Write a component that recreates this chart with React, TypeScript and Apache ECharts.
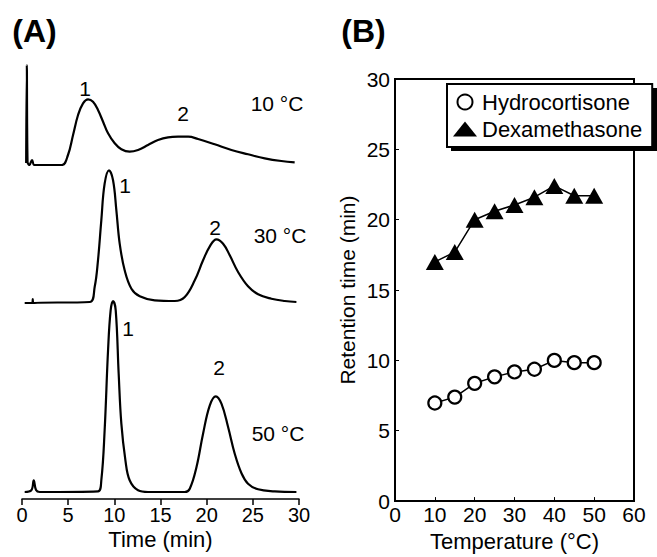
import React, { useEffect, useRef } from "react";
import * as echarts from "echarts";

// Panel A: chromatogram traces, [time (min), detector signal (a.u.)]
const trace10C: number[][] = [
  [0.45, 2], [0.52, 100], [0.6, 3], [0.8, 0], [1.09, 5], [1.35, 0], [4.3, 0],
  [4.98, 10], [5.53, 30], [6.07, 50], [6.61, 61.7], [7.15, 65.7], [7.69, 63.3],
  [8.23, 55], [8.78, 43.3], [9.32, 31.7], [10.04, 21.7], [10.76, 15.7], [11.66, 13.3],
  [12.57, 15], [13.65, 20], [14.73, 25], [15.82, 27.7], [16.9, 28.3], [18.0, 28.3],
  [19.07, 26], [20.87, 20.7], [22.68, 15], [24.48, 10.7], [26.29, 6.7], [28.09, 4], [29.53, 2.7],
];
const trace30C: number[][] = [
  [0.29, 0], [1.1, 0], [1.17, 4], [1.2, -4], [1.25, 0], [7.33, 1], [7.87, 16],
  [8.23, 42.7], [8.59, 82.7], [8.95, 119.3], [9.42, 132.7], [9.86, 122.7], [10.22, 92.7],
  [10.58, 59.3], [11.12, 32.7], [11.85, 14.3], [12.75, 6.7], [14.37, 2.7], [16.54, 2],
  [17.63, 6], [18.71, 22.7], [19.61, 42.7], [20.34, 56.7], [21.06, 63.7], [21.78, 59.3],
  [22.5, 47.7], [23.4, 31], [24.48, 16.7], [25.57, 8.7], [27.01, 4.3], [28.46, 2], [29.72, 1],
];
const trace50C: number[][] = [
  [0.29, 0], [1.01, 1.7], [1.27, 11.7], [1.52, 2], [1.92, 0], [8.23, 0.7], [8.59, 11.7],
  [8.95, 61.7], [9.32, 141.7], [9.6, 181.7], [9.86, 191], [10.15, 181.7], [10.47, 118.3],
  [10.76, 68.3], [11.2, 31.7], [11.66, 11.7], [12.57, 1.7], [13.65, 0], [17.63, 0],
  [18.17, 3.3], [18.9, 25], [19.61, 58.3], [20.34, 86.7], [20.99, 95.7], [21.6, 88.3],
  [22.32, 65], [23.04, 38.3], [23.76, 19], [24.48, 8.3], [25.57, 2.7], [27.37, 0.7], [29.72, 0],
];
const traceNames = ["10 °C", "30 °C", "50 °C"];
const peakLabels = ["1", "2"];

// Panel B: retention time vs temperature
const temperatures = [10, 15, 20, 25, 30, 35, 40, 45, 50];
const hydrocortisone = [6.97, 7.39, 8.37, 8.83, 9.18, 9.37, 10.0, 9.84, 9.84];
const dexamethasone = [17.0, 17.7, 20.0, 20.6, 21.05, 21.6, 22.4, 21.7, 21.7];

const FONT = "'Liberation Sans', Arial, Helvetica, sans-serif";

export default function App() {
  const ref = useRef<HTMLDivElement>(null);

  useEffect(() => {
    if (!ref.current) return;
    const chart = echarts.init(ref.current, null, { renderer: "svg" });

    const traces = [trace10C, trace30C, trace50C];
    const gridsA = [
      { left: 22, width: 277, top: 55, height: 110 },
      { left: 22, width: 277, top: 163, height: 140 },
      { left: 22, width: 277, top: 299, height: 200 },
    ];
    const yRangesA = [
      [0, 110],
      [0, 140],
      [-7, 193],
    ];

    const txt = (text: string, x: number, y: number, size = 21, bold = false) => ({
      type: "text",
      x,
      y,
      z: 10,
      style: {
        text,
        fontSize: size,
        fontWeight: bold ? "bold" : "normal",
        fontFamily: FONT,
        fill: "#000",
        align: "center",
        verticalAlign: "middle",
      },
    });

    const option: any = {
      animation: false,
      backgroundColor: "#fff",
      textStyle: { fontFamily: FONT, color: "#000" },
      grid: [
        ...gridsA.map((g) => ({ ...g, containLabel: false })),
        {
          left: 395,
          top: 79,
          width: 239,
          height: 429,
          show: true,
          borderColor: "#000",
          borderWidth: 2,
          backgroundColor: "transparent",
        },
      ],
      xAxis: [
        ...gridsA.map((_, i) => ({
          type: "value",
          gridIndex: i,
          min: 0,
          max: 30,
          interval: 5,
          show: i === 2,
          name: i === 2 ? "Time (min)" : "",
          nameLocation: "middle",
          nameGap: 29,
          nameTextStyle: { fontSize: 22, color: "#000", fontFamily: FONT },
          axisLine: { show: true, onZero: false, lineStyle: { color: "#000", width: 1.5 } },
          axisTick: { show: true, inside: false, length: 6, lineStyle: { color: "#000", width: 1.5 } },
          axisLabel: { fontSize: 20, color: "#000", margin: 6, fontFamily: FONT },
          splitLine: { show: false },
        })),
        {
          type: "value",
          gridIndex: 3,
          min: 0,
          max: 60,
          interval: 10,
          name: "Temperature (°C)",
          nameLocation: "middle",
          nameGap: 23,
          nameTextStyle: { fontSize: 22, color: "#000", fontFamily: FONT },
          axisLine: { show: true, onZero: false, lineStyle: { color: "#000", width: 2 } },
          axisTick: { show: true, inside: true, length: 4, lineStyle: { color: "#000", width: 1 } },
          axisLabel: { fontSize: 21, color: "#000", margin: 3, fontFamily: FONT },
          splitLine: { show: false },
        },
      ],
      yAxis: [
        ...gridsA.map((_, i) => ({
          type: "value",
          gridIndex: i,
          min: yRangesA[i][0],
          max: yRangesA[i][1],
          show: false,
          splitLine: { show: false },
        })),
        {
          type: "value",
          gridIndex: 3,
          min: 0,
          max: 30,
          interval: 5,
          name: "Retention time (min)",
          nameLocation: "middle",
          nameGap: 37,
          nameTextStyle: { fontSize: 21, color: "#000", fontFamily: FONT },
          axisLine: { show: true, onZero: false, lineStyle: { color: "#000", width: 2 } },
          axisTick: { show: true, inside: true, length: 4, lineStyle: { color: "#000", width: 1 } },
          axisLabel: { fontSize: 21, color: "#000", margin: 5, fontFamily: FONT },
          splitLine: { show: false },
        },
      ],
      legend: {
        orient: "vertical",
        left: 447,
        top: 84,
        padding: [7, 10, 7, 6],
        itemGap: 5,
        itemWidth: 24,
        itemHeight: 15,
        symbolKeepAspect: true,
        selectedMode: false,
        backgroundColor: "#fff",
        borderColor: "#000",
        borderWidth: 2,
        borderRadius: 0,
        z: 20,
        textStyle: { fontSize: 22, color: "#000", fontFamily: FONT },
        data: [
          {
            name: "Hydrocortisone",
            icon: "circle",
            itemStyle: { color: "#fff", borderColor: "#000", borderWidth: 2 },
          },
          { name: "Dexamethasone", icon: "triangle", itemStyle: { color: "#000" } },
        ],
      },
      series: [
        ...traces.map((tr, i) => ({
          name: traceNames[i],
          type: "line",
          xAxisIndex: i,
          yAxisIndex: i,
          data: tr,
          symbol: "none",
          smooth: 0.4,
          lineStyle: { color: "#000", width: 2.2 },
          z: 3,
        })),
        {
          name: "Hydrocortisone",
          type: "line",
          xAxisIndex: 3,
          yAxisIndex: 3,
          data: temperatures.map((t, i) => [t, hydrocortisone[i]]),
          symbol: "circle",
          symbolSize: 13,
          showAllSymbol: true,
          lineStyle: { color: "#000", width: 1.5 },
          itemStyle: { color: "#fff", borderColor: "#000", borderWidth: 2.2 },
          z: 5,
        },
        {
          name: "Dexamethasone",
          type: "line",
          xAxisIndex: 3,
          yAxisIndex: 3,
          data: temperatures.map((t, i) => [t, dexamethasone[i]]),
          symbol: "triangle",
          symbolSize: [18, 16],
          showAllSymbol: true,
          lineStyle: { color: "#000", width: 1.5 },
          itemStyle: { color: "#000", borderColor: "#000", borderWidth: 0 },
          z: 5,
        },
      ],
      graphic: [
        { type: "rect", z: 15, shape: { x: 451, y: 88, width: 206, height: 63 }, style: { fill: "#000" } },
        txt("(A)", 34.5, 31, 32, true),
        txt("(B)", 363.5, 31, 32, true),
        txt(peakLabels[0], 85, 88),
        txt(peakLabels[1], 183, 113),
        txt(traceNames[0], 277, 103),
        txt(peakLabels[0], 125, 185),
        txt(peakLabels[1], 215, 227),
        txt(traceNames[1], 280, 235),
        txt(peakLabels[0], 128, 328),
        txt(peakLabels[1], 219, 367),
        txt(traceNames[2], 278, 433),
      ],
    };

    chart.setOption(option);
    return () => chart.dispose();
  }, []);

  return (
    <div
      ref={ref}
      style={{ position: "absolute", left: 0, top: 0, width: 657, height: 557, background: "#fff" }}
    />
  );
}
